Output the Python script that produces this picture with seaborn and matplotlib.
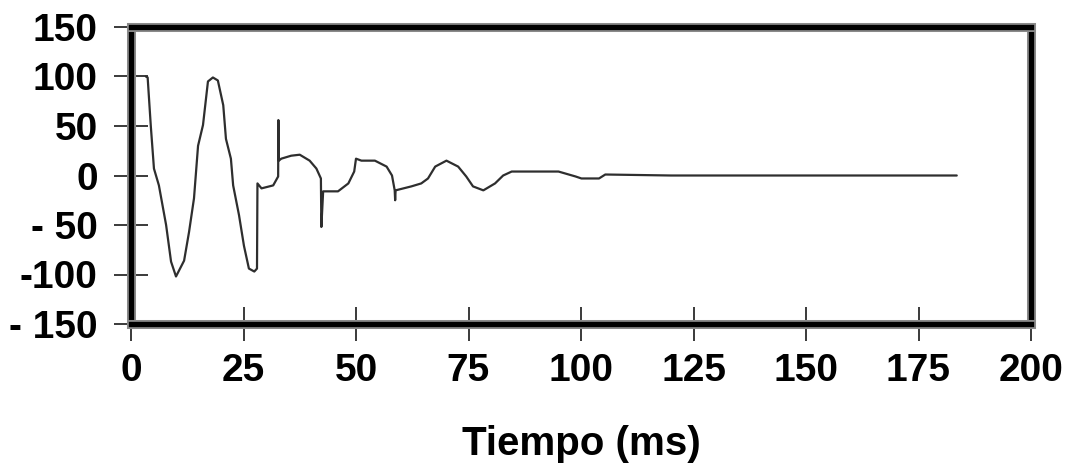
import matplotlib
matplotlib.use("Agg")
import matplotlib.pyplot as plt
import matplotlib.patheffects as pe
from matplotlib import font_manager
import seaborn as sns
import pandas as pd

# Damped oscillation trace (time in ms, amplitude)
tiempo = [3.3, 3.7, 4.4, 5.1, 6.2, 7.8, 8.9, 10.0, 11.8, 12.9, 14.0, 14.9, 16.0,
          17.1, 18.2, 19.3, 20.5, 21.1, 22.2, 22.7, 24.0, 25.1, 26.2, 27.4, 28.0,
          28.1, 29.0, 31.6, 32.7, 32.75, 32.85, 33.4, 35.6, 37.5, 39.7, 41.2, 42.2,
          42.3, 42.7, 46.0, 48.3, 49.6, 50.0, 51.2, 54.2, 56.8, 58.0, 58.6, 58.7,
          58.8, 62.3, 64.5, 66.0, 67.6, 70.1, 72.7, 74.5, 76.0, 78.3, 80.9, 82.7,
          84.6, 95.0, 98.8, 100.1, 104.0, 105.4, 120.0, 140.0, 160.0, 183.5]
amplitud = [100, 99, 50, 7, -10, -50, -87, -102, -86, -57, -23, 30, 51,
            95, 99, 96, 71, 37, 17, -10, -40, -71, -94, -97, -94,
            -8, -13, -10, -1, 56, 15, 17, 20, 21, 15, 7, -3,
            -52, -16, -16, -8, 4, 17, 15, 15, 9, 0, -15, -25,
            -15, -11, -8, -3, 9, 15, 9, -1, -11, -15, -8, 0,
            4, 4, -1, -3, -3, 1, 0, 0, 0, 0]

x_ticks = [0, 25, 50, 75, 100, 125, 150, 175, 200]
y_ticks = [-150, -100, -50, 0, 50, 100, 150]
y_tick_labels = ["- 150", "-100", "- 50", "0", "50", "100", "150"]

sns.set_style("white")
plt.rcParams["font.family"] = ["Liberation Sans", "DejaVu Sans"]

# Narrow face for the tick numbers when available
installed = {f.name for f in font_manager.fontManager.ttflist}
tick_family = "Liberation Sans Narrow" if "Liberation Sans Narrow" in installed else "Liberation Sans"
tick_size = 31 if tick_family == "Liberation Sans Narrow" else 28

df = pd.DataFrame({"Tiempo": tiempo, "Amplitud": amplitud})

fig = plt.figure(figsize=(10.72, 4.72), dpi=100)
ax = fig.add_axes([131 / 1072, 1 - 324 / 472, 900 / 1072, 297 / 472])

sns.lineplot(data=df, x="Tiempo", y="Amplitud", ax=ax, estimator=None,
             sort=False, color="#2e2e2e", linewidth=1.6)

ax.set_xlim(0, 200)
ax.set_ylim(-150, 150)
ax.set_xticks(x_ticks)
ax.set_xticklabels([str(v) for v in x_ticks])
ax.set_yticks(y_ticks)
ax.set_yticklabels(y_tick_labels)

ax.tick_params(axis="both", bottom=True, left=True, direction="inout",
               length=24, width=1.4, color="#3a3a3a", labelsize=tick_size,
               labelcolor="black")
ax.tick_params(axis="x", pad=9)
ax.tick_params(axis="y", pad=12)
for lab in ax.get_xticklabels() + ax.get_yticklabels():
    lab.set_fontweight("bold")
    lab.set_family(tick_family)

ax.set_xlabel("Tiempo (ms)", fontsize=29, fontweight="bold", color="black",
              labelpad=26)
ax.set_ylabel("")

for side, spine in ax.spines.items():
    spine.set_visible(True)
    spine.set_color("black")
    spine.set_linewidth(3.8)
    spine.set_path_effects([pe.withStroke(linewidth=6.5, foreground="#8a8a8a")])

fig.savefig("out.png", dpi=100, facecolor="white")
